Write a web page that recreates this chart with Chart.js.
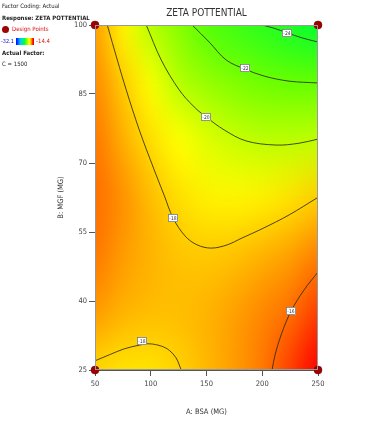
<!DOCTYPE html>
<html>
<head>
<meta charset="utf-8">
<script src="https://cdn.jsdelivr.net/npm/chart.js@4.4.1/dist/chart.umd.min.js"></script>
<style>
  html, body { margin: 0; padding: 0; background: #fff; }
  #wrap { position: relative; width: 371px; height: 429px; }
  #info { position: absolute; left: 0; top: 0; width: 90px; height: 70px;
          font-family: "Liberation Sans Narrow", "DejaVu Sans Condensed", sans-serif;
          font-size: 6px; color: #222; }
  #info div { position: absolute; white-space: nowrap; line-height: 8px; }
  #info .b { font-weight: bold; }
  #dot { width: 7px; height: 7px; border-radius: 50%; background: #a00000; }
  #bar { width: 17px; height: 7px; background: linear-gradient(to right, #0000ff, #00c8ff 25%, #00ff40 50%, #c0ff00 70%, #ffff00 80%, #ff8000 92%, #ff0000); border-right: 1px solid #e00; }
</style>
</head>
<body>
<div id="wrap">
  <canvas id="myChart" width="371" height="429"></canvas>
  <div id="info">
    <div style="left:2px;top:2px">Factor Coding: Actual</div>
    <div class="b" style="left:2px;top:14px">Response: ZETA POTTENTIAL</div>
    <div id="dot" style="left:2px;top:26px"></div>
    <div style="left:12px;top:25px;color:#d01010">Design Points</div>
    <div style="left:1px;top:37px;color:#0000ee;font-size:5.5px">-32.1</div>
    <div id="bar" style="left:16px;top:37.5px"></div>
    <div style="left:36px;top:37px;color:#e01010">-14.4</div>
    <div class="b" style="left:2px;top:49px">Actual Factor:</div>
    <div style="left:2px;top:60px">C = 1500</div>
  </div>
</div>
<script>
const FONT = '"Liberation Sans Narrow", "DejaVu Sans Condensed", "Liberation Sans", sans-serif';

// response surface (A: BSA across, B: MGF down from 100)
const gridX = [50, 75, 100, 125, 150, 175, 200, 225, 250];
const gridY = [100, 87.5, 75, 62.5, 50, 37.5, 25];
const zeta = [
  [-17.0, -18.8, -20.2, -21.2, -22.5, -23.3, -24.0, -24.7, -25.3],
  [-16.6, -17.9, -19.1, -20.2, -20.9, -21.4, -21.75, -21.95, -22.0],
  [-16.2, -17.3, -18.3, -19.0, -19.5, -19.85, -20.05, -20.05, -19.98],
  [-16.0, -16.7, -17.6, -18.3, -18.7, -18.8, -18.7, -18.4, -18.0],
  [-16.2, -16.9, -17.4, -17.75, -17.85, -17.7, -17.4, -17.0, -16.4],
  [-16.9, -17.4, -17.6, -17.6, -17.4, -17.0, -16.5, -16.0, -15.3],
  [-18.15, -18.4, -18.4, -18.05, -17.5, -16.9, -16.2, -15.3, -14.4]
];

// contour lines
const c18a = [{x:61,y:100},{x:70,y:92.4},{x:78,y:85.9},{x:89.7,y:77.2},{x:103.1,y:68.5},{x:112,y:63},{x:120.1,y:58},{x:130.9,y:54.1},{x:141.6,y:52.2},{x:154.2,y:51.5},{x:168.5,y:52.2},{x:181.9,y:53.7},{x:199.9,y:55.7},{x:224,y:58.7},{x:249.1,y:62.4}];
const c20 = [{x:96,y:100},{x:109.4,y:92.4},{x:125.5,y:85.9},{x:138.9,y:82.2},{x:149.7,y:80},{x:165.8,y:77.2},{x:185.5,y:74.8},{x:212.4,y:73.9},{x:233,y:74.3},{x:250,y:75.2}];
const c22 = [{x:137.1,y:100},{x:152.4,y:96.3},{x:167.6,y:92.4},{x:184.6,y:90.4},{x:201.6,y:88.9},{x:224,y:87.8},{x:250,y:87.4}];
const c24 = [{x:199.9,y:100},{x:210.6,y:99.3},{x:222.3,y:98.3},{x:235.7,y:97.2},{x:250,y:96.3}];
const c18b = [{x:50,y:27},{x:62.8,y:28.3},{x:76.2,y:29.6},{x:89.7,y:30.4},{x:98.6,y:30.7},{x:109.4,y:30.2},{x:116.5,y:29.3},{x:122.8,y:27.6},{x:127.3,y:25}];
const c16 = [{x:208.8,y:25},{x:211.5,y:28.3},{x:216.9,y:32.6},{x:225.8,y:37.8},{x:237.5,y:42.4},{x:250,y:46.3}];

const contourTags = ['-24', '-22', '-20', '-18', '-18', '-16'];
const tagX = [222.3, 184.6, 149.7, 120.1, 92.1, 225.8];
const tagY = [98.3, 90.7, 80.0, 58.0, 31.3, 37.8];

const designA = [50, 50, 250, 250];
const designB = [25, 100, 25, 100];

const xTicks = [50, 100, 150, 200, 250];
const yTicks = [25, 40, 55, 70, 85, 100];

// colour ramp, value -> rgb
const rampV = [-32.1, -28.5, -25.5, -22, -20, -19, -18, -17, -16, -14.4];
const rampC = [[0,0,255],[0,200,255],[0,255,50],[100,255,0],[190,255,0],[255,255,0],[255,208,0],[255,160,0],[255,110,0],[255,0,0]];

function colorFor(v) {
  if (v <= rampV[0]) return rampC[0];
  for (let i = 1; i < rampV.length; i++) {
    if (v <= rampV[i]) {
      const t = (v - rampV[i-1]) / (rampV[i] - rampV[i-1]);
      return rampC[i].map((c, k) => Math.round(rampC[i-1][k] + (c - rampC[i-1][k]) * t));
    }
  }
  return rampC[rampC.length - 1];
}

const heatmap = {
  id: 'heatmap',
  beforeDatasetsDraw(chart) {
    const {ctx, chartArea: a, scales: {x, y}} = chart;
    const off = document.createElement('canvas');
    off.width = gridX.length;
    off.height = gridY.length;
    const octx = off.getContext('2d');
    const img = octx.createImageData(off.width, off.height);
    zeta.forEach((row, j) => row.forEach((v, i) => {
      const c = colorFor(v);
      const k = (j * off.width + i) * 4;
      img.data[k] = c[0]; img.data[k+1] = c[1]; img.data[k+2] = c[2]; img.data[k+3] = 255;
    }));
    octx.putImageData(img, 0, 0);
    const dx = (gridX[1] - gridX[0]) / 2, dy = (gridY[0] - gridY[1]) / 2;
    const left = x.getPixelForValue(gridX[0] - dx);
    const right = x.getPixelForValue(gridX[gridX.length-1] + dx);
    const top = y.getPixelForValue(gridY[0] + dy);
    const bottom = y.getPixelForValue(gridY[gridY.length-1] - dy);
    ctx.save();
    ctx.beginPath();
    ctx.rect(a.left, a.top, a.width, a.height);
    ctx.clip();
    ctx.imageSmoothingEnabled = true;
    ctx.imageSmoothingQuality = 'high';
    ctx.drawImage(off, left, top, right - left, bottom - top);
    ctx.restore();
  },
  afterDatasetsDraw(chart) {
    const {ctx, chartArea: a, scales: {x, y}} = chart;
    ctx.save();
    // frame
    ctx.strokeStyle = '#999';
    ctx.lineWidth = 1;
    ctx.strokeRect(a.left + 0.5, a.top + 0.5, a.width - 1, a.height - 1);
    // contour tags
    ctx.font = '5px ' + FONT;
    ctx.textAlign = 'center';
    ctx.textBaseline = 'middle';
    contourTags.forEach((t, i) => {
      const px = Math.round(x.getPixelForValue(tagX[i]));
      const py = Math.round(y.getPixelForValue(tagY[i]));
      ctx.fillStyle = '#fff';
      ctx.fillRect(px - 5, py - 4, 10, 8);
      ctx.strokeStyle = '#777';
      ctx.lineWidth = 0.8;
      ctx.strokeRect(px - 5 + 0.5, py - 4 + 0.5, 9, 7);
      ctx.fillStyle = '#333';
      ctx.fillText(t, px, py + 0.5);
    });
    ctx.restore();
  }
};

const lineStyle = {
  showLine: true, pointRadius: 0, borderColor: 'rgba(45,45,20,0.85)',
  borderWidth: 1, tension: 0.35, fill: false
};

const data = {
  datasets: [
    Object.assign({data: c18a}, lineStyle),
    Object.assign({data: c20}, lineStyle),
    Object.assign({data: c22}, lineStyle),
    Object.assign({data: c24}, lineStyle),
    Object.assign({data: c18b}, lineStyle),
    Object.assign({data: c16}, lineStyle),
    {
      data: designA.map((a, i) => ({x: a, y: designB[i]})),
      pointRadius: 4, backgroundColor: '#a00000', borderColor: '#6a0000',
      borderWidth: 0.5, clip: false
    }
  ]
};

const config = {
  type: 'scatter',
  data: data,
  plugins: [heatmap],
  options: {
    responsive: false,
    animation: false,
    layout: { padding: { left: 0, right: 53, top: 0, bottom: 0 } },
    plugins: {
      legend: { display: false },
      tooltip: { enabled: false },
      title: {
        display: true,
        text: 'ZETA POTTENTIAL',
        fullSize: false,
        color: '#333',
        font: { family: FONT, size: 10, weight: 'normal' },
        padding: { top: 7, bottom: 6 }
      }
    },
    scales: {
      x: {
        type: 'linear', min: 50, max: 250,
        afterBuildTicks: s => { s.ticks = xTicks.map(v => ({value: v})); },
        afterFit: s => { s.height = 59; },
        grid: { drawOnChartArea: false, tickLength: 6, color: '#555' },
        border: { color: '#555' },
        ticks: { color: '#444', padding: 4, maxRotation: 0, font: { family: FONT, size: 7.5 } },
        title: { display: true, text: 'A: BSA (MG)', color: '#333',
                 font: { family: FONT, size: 7.5 }, padding: { top: 0, bottom: 12 } }
      },
      y: {
        type: 'linear', min: 25, max: 100,
        afterBuildTicks: s => { s.ticks = yTicks.map(v => ({value: v})); },
        afterFit: s => { s.width = 95; },
        grid: { drawOnChartArea: false, tickLength: 6, color: '#555' },
        border: { color: '#555' },
        ticks: { color: '#444', padding: 2, font: { family: FONT, size: 7.5 } },
        title: { display: true, text: 'B: MGF (MG)', color: '#333',
                 font: { family: FONT, size: 7.5 }, padding: { top: 57, bottom: 0 } }
      }
    }
  }
};

var myChart = new Chart(document.getElementById('myChart'), config);
</script>
</body>
</html>
